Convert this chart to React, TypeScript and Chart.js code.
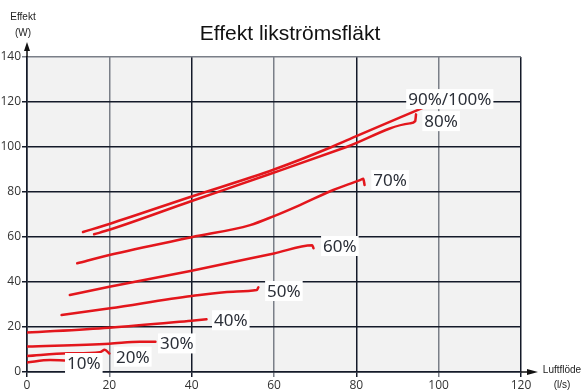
import React, { useEffect, useRef } from "react";
import { Chart, registerables } from "chart.js";

Chart.register(...registerables);

const seriesNames = ["90%/100%", "80%", "70%", "60%", "50%", "40%", "30%", "20%", "10%"];

const s90: [number, number][] = [[13.6, 62.2], [20, 65.8], [40, 78], [60, 90], [74, 100], [80, 104.8], [96, 117.3]];
const s80: [number, number][] = [[16.3, 61.2], [20, 63.2], [40, 76], [59, 88], [77.6, 100], [93, 110.5], [94.3, 111.5], [94.5, 114.5]];
const s70: [number, number][] = [[12.2, 48.3], [20, 52], [40, 59.9], [54.2, 65.3], [60, 69.3], [66.3, 74.2], [74.4, 80.9], [80.9, 85.3], [81.7, 85.9], [82, 83.1]];
const s60: [number, number][] = [[10.4, 34.2], [20, 37.9], [40, 45], [60, 52.7], [69.3, 56.3], [69.6, 55]];
const s50: [number, number][] = [[8.4, 25.3], [20.2, 28.3], [40, 33.8], [50.1, 35.7], [55.8, 36.4], [56.2, 37.6]];
const s40: [number, number][] = [[0, 17.5], [20, 19.7], [40, 22.8], [43.6, 23.4]];
const s30: [number, number][] = [[0, 11.3], [20, 12.6], [27.4, 13.5], [31.2, 13.4]];
const s20: [number, number][] = [[0, 7.1], [10, 8.3], [17.7, 8.8], [18.9, 9.9], [20, 8.2]];
const s10: [number, number][] = [[0, 4.2], [5.6, 5.3], [9.1, 5.1]];

const seriesData = [s90, s80, s70, s60, s50, s40, s30, s20, s10];

// label anchor positions (data coords)
const labelX = [102.7, 100.6, 88.2, 76, 62.4, 49.5, 36.4, 25.7, 13.8];
const labelY = [121.3, 111.5, 85.3, 56, 36, 23, 12.7, 6.8, 4];

const xTicks = [0, 20, 40, 60, 80, 100, 120];
const yTicks = [0, 20, 40, 60, 80, 100, 120, 140];

const titleText = "Effekt likströmsfläkt";
const yAxisTitle = ["Effekt", "(W)"];
const xAxisTitle = ["Luftflöde", "(l/s)"];

const DARK = "#141a29";
const GRAY = "#7a7f88";

export default function App() {
  const ref = useRef<HTMLCanvasElement>(null);
  useEffect(() => {
    document.body.style.margin = "0";
    const canvas = ref.current!;
    const bgPlugin = {
      id: "bg",
      beforeDraw(chart: any) {
        const { ctx, chartArea: a } = chart;
        ctx.save();
        ctx.fillStyle = "#ffffff";
        ctx.fillRect(0, 0, chart.width, chart.height);
        ctx.fillStyle = "#f2f2f2";
        ctx.fillRect(a.left, a.top, a.right - a.left, a.bottom - a.top);
        ctx.restore();
      },
    };
    const decoPlugin = {
      id: "deco",
      afterDatasetsDraw(chart: any) {
        const { ctx, chartArea: a, scales } = chart;
        const xs = scales.x, ys = scales.y;
        ctx.save();
        // labels
        ctx.font = '17px "Noto Sans"';
        ctx.textAlign = "center";
        ctx.textBaseline = "middle";
        seriesNames.forEach((t, i) => {
          const px = xs.getPixelForValue(labelX[i]);
          const py = ys.getPixelForValue(labelY[i]);
          const w = ctx.measureText(t).width;
          ctx.fillStyle = "#ffffff";
          ctx.fillRect(px - w / 2 - 2, py - 10, w + 4, 20);
          ctx.fillStyle = "#2b2f38";
          ctx.fillText(t, px, py + 1);
        });
        // title
        ctx.fillStyle = "#111111";
        ctx.font = '21px "Liberation Sans"';
        ctx.fillText(titleText, 290, 34);
        // axis titles
        ctx.fillStyle = "#222222";
        ctx.font = '10px "Liberation Sans"';
        ctx.fillText(yAxisTitle[0], 23, 17);
        ctx.fillText(yAxisTitle[1], 23, 33);
        ctx.fillText(xAxisTitle[0], 562, 370);
        ctx.fillText(xAxisTitle[1], 562, 385);
        // arrows
        ctx.strokeStyle = "#111111";
        ctx.fillStyle = "#111111";
        ctx.lineWidth = 1.5;
        ctx.beginPath();
        ctx.moveTo(a.left, a.top);
        ctx.lineTo(a.left, a.top - 8);
        ctx.stroke();
        ctx.beginPath();
        ctx.moveTo(a.left, a.top - 15);
        ctx.lineTo(a.left - 3, a.top - 6);
        ctx.lineTo(a.left + 3, a.top - 6);
        ctx.closePath();
        ctx.fill();
        ctx.beginPath();
        ctx.moveTo(a.right, a.bottom);
        ctx.lineTo(a.right + 8, a.bottom);
        ctx.stroke();
        ctx.beginPath();
        ctx.moveTo(a.right + 17, a.bottom);
        ctx.lineTo(a.right + 6, a.bottom - 3);
        ctx.lineTo(a.right + 6, a.bottom + 3);
        ctx.closePath();
        ctx.fill();
        ctx.restore();
      },
    };
    const chart = new Chart(canvas, {
      type: "line",
      data: {
        datasets: seriesData.map((d, i) => ({
          label: seriesNames[i],
          data: d.map(([x, y]) => ({ x, y })),
          borderColor: "#e3161c",
          borderWidth: 2.5,
          pointRadius: 0,
          fill: false,
          cubicInterpolationMode: "monotone" as const,
          borderCapStyle: "round" as const,
        })),
      },
      options: {
        responsive: false,
        animation: false,
        layout: { padding: { top: 57, right: 63, left: 0, bottom: 0 } },
        plugins: { legend: { display: false }, tooltip: { enabled: false }, title: { display: false } },
        scales: {
          x: {
            type: "linear",
            min: 0,
            max: 120,
            afterFit(scale: any) { scale.height = 18; },
            afterBuildTicks(scale: any) { scale.ticks = xTicks.map((v) => ({ value: v })); },
            ticks: { color: "#333333", font: { family: "Open Sans", size: 12 }, padding: 1, maxRotation: 0 },
            grid: {
              color: (c: any) => (c.tick && (c.tick.value === 20 || c.tick.value === 60 || c.tick.value === 100) ? GRAY : DARK),
              lineWidth: 1.5,
              tickLength: 5,
            },
            border: { color: DARK, width: 1.5 },
          },
          y: {
            type: "linear",
            min: 0,
            max: 140,
            afterFit(scale: any) { scale.width = 27; },
            afterBuildTicks(scale: any) { scale.ticks = yTicks.map((v) => ({ value: v })); },
            ticks: { color: "#333333", font: { family: "Open Sans", size: 12 }, padding: 1 },
            grid: {
              color: (c: any) => (c.tick && c.tick.value === 140 ? GRAY : DARK),
              lineWidth: 1.5,
              tickLength: 5,
            },
            border: { color: DARK, width: 1.5 },
          },
        },
      },
      plugins: [bgPlugin, decoPlugin],
    });
    return () => chart.destroy();
  }, []);
  return (
    <div style={{ width: 584, height: 390 }}>
      <canvas ref={ref} width={584} height={390} />
    </div>
  );
}
